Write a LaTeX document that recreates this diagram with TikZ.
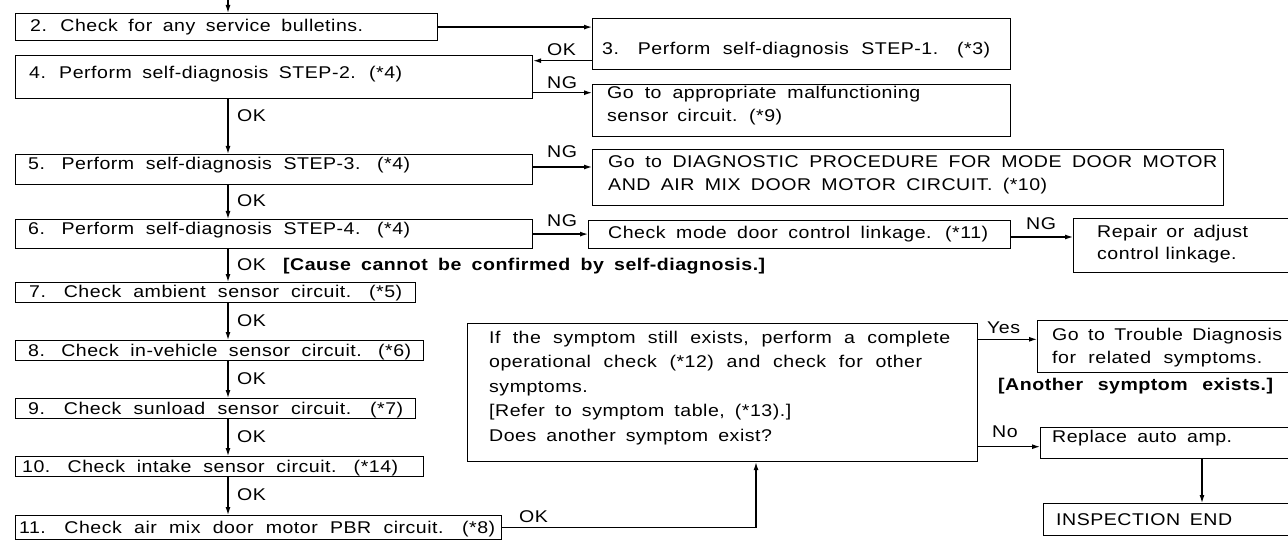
\documentclass[tikz,border=0pt]{standalone}
\usepackage{fontspec}
\setmainfont{Liberation Sans}[FakeStretch=1.15,LetterSpace=3,WordSpace=1.7]
\usetikzlibrary{arrows.meta}
\newcommand{\fitline}[2]{\makebox[#1pt][s]{#2}}
\begin{document}
\begin{tikzpicture}[x=1pt,y=-1pt,
  box/.style={draw,line width=1.2pt,inner sep=0pt,anchor=north west},
  txt/.style={anchor=base west,inner sep=0pt,font=\fontsize{17}{20}\selectfont},
  btxt/.style={anchor=base west,inner sep=0pt,font=\fontsize{17}{20}\selectfont\bfseries},
  arr/.style={line width=1.2pt,-{Latex[length=8pt,width=5pt]}}]
\useasboundingbox (0,0) rectangle (1288,540);
\fill[white] (0,0) rectangle (1288,540);
\clip (0,0) rectangle (1288,540);
% boxes
\node[box,minimum width=422,minimum height=27] (b2) at (15,13) {};
\node[box,minimum width=418,minimum height=51] (b3) at (592,18) {};
\node[box,minimum width=517,minimum height=43] (b4) at (15,55) {};
\node[box,minimum width=418,minimum height=52] (mal) at (592,84) {};
\node[box,minimum width=517,minimum height=30] (b5) at (15,154) {};
\node[box,minimum width=631,minimum height=56] (diag) at (592,149) {};
\node[box,minimum width=517,minimum height=29] (b6) at (15,219) {};
\node[box,minimum width=422,minimum height=28] (mode) at (588,220) {};
\node[box,minimum width=240,minimum height=54] (rep) at (1073,218) {};
\node[box,minimum width=400,minimum height=20] (b7) at (15,282) {};
\node[box,minimum width=408,minimum height=20] (b8) at (15,340) {};
\node[box,minimum width=400,minimum height=20] (b9) at (15,398) {};
\node[box,minimum width=408,minimum height=20] (b10) at (15,456) {};
\node[box,minimum width=486,minimum height=24] (b11) at (15,515) {};
\node[box,minimum width=510,minimum height=138] (dec) at (467,323) {};
\node[box,minimum width=270,minimum height=52] (trb) at (1037,320) {};
\node[box,minimum width=270,minimum height=31] (rpl) at (1040,427) {};
\node[box,minimum width=270,minimum height=32] (insp) at (1043,503) {};
% texts
\node[txt] (t2) at (30,31.5) {\fitline{333}{2. Check for any service bulletins.}};
\node[txt] (t3) at (602,55) {\fitline{388}{3. Perform self-diagnosis STEP-1. (*3)}};
\node[txt] (t4) at (29,79) {\fitline{373}{4. Perform self-diagnosis STEP-2. (*4)}};
\node[txt] (tm1) at (607,99) {\fitline{313}{Go to appropriate malfunctioning}};
\node[txt] (tm2) at (607,122) {\fitline{175}{sensor circuit. (*9)}};
\node[txt] (t5) at (28,170) {\fitline{382}{5. Perform self-diagnosis STEP-3. (*4)}};
\node[txt] (td1) at (608,168) {\fitline{609}{Go to DIAGNOSTIC PROCEDURE FOR MODE DOOR MOTOR}};
\node[txt] (td2) at (608,190.5) {\fitline{439}{AND AIR MIX DOOR MOTOR CIRCUIT. (*10)}};
\node[txt] (t6) at (28,235) {\fitline{382}{6. Perform self-diagnosis STEP-4. (*4)}};
\node[txt] (tmo) at (608,239) {\fitline{380}{Check mode door control linkage. (*11)}};
\node[txt] (tr1) at (1097,237) {\fitline{151}{Repair or adjust}};
\node[txt] (tr2) at (1097,259.5) {\fitline{121}{control linkage.}};
\node[btxt] (tc) at (283,270) {\fitline{482}{[Cause cannot be confirmed by self-diagnosis.]}};
\node[txt] (t7) at (29,298) {\fitline{373}{7. Check ambient sensor circuit. (*5)}};
\node[txt] (t8) at (28,356) {\fitline{383}{8. Check in-vehicle sensor circuit. (*6)}};
\node[txt] (t9) at (28,414) {\fitline{375}{9. Check sunload sensor circuit. (*7)}};
\node[txt] (t10) at (22,472) {\fitline{376}{10. Check intake sensor circuit. (*14)}};
\node[txt] (t11) at (19,533) {\fitline{476}{11. Check air mix door motor PBR circuit. (*8)}};
\node[txt] (q1) at (489,343) {\fitline{461}{If the symptom still exists, perform a complete}};
\node[txt] (q2) at (489,367.5) {\fitline{433}{operational check (*12) and check for other}};
\node[txt] (q3) at (489,392) {symptoms.};
\node[txt] (q4) at (489,416.5) {[Refer to symptom table, (*13).]};
\node[txt] (q5) at (489,441) {Does another symptom exist?};
\node[txt] (g1) at (1052,340) {\fitline{230}{Go to Trouble Diagnosis}};
\node[txt] (g2) at (1052,363) {\fitline{210}{for related symptoms.}};
\node[btxt] (an) at (998,390) {\fitline{275}{[Another symptom exists.]}};
\node[txt] (rt) at (1052,442) {\fitline{180}{Replace auto amp.}};
\node[txt] (it) at (1056,525) {\fitline{176}{INSPECTION END}};
% connector labels
\node[txt] (l1) at (547,56) {OK};
\node[txt] (l2) at (547,89) {NG};
\node[txt] (l3) at (237,122) {OK};
\node[txt] (l4) at (547,158) {NG};
\node[txt] (l5) at (237,207) {OK};
\node[txt] (l6) at (547,227) {NG};
\node[txt] (l7) at (1026,230) {NG};
\node[txt] (l8) at (237,270) {OK};
\node[txt] (l9) at (237,326) {OK};
\node[txt] (l10) at (237,384) {OK};
\node[txt] (l11) at (237,442) {OK};
\node[txt] (l12) at (237,500) {OK};
\node[txt] (l13) at (987,333) {Yes};
\node[txt] (l14) at (992,437) {No};
\node[txt] (l15) at (519,522) {OK};
% connectors
\coordinate (spine) at (228,-2);
\coordinate (upx) at (756,0);
\coordinate (dnx) at (1202,0);
\draw[arr] (spine) -- (spine |- b2.north);
\draw[arr] (b2.east) -- (b2.east -| b3.west);
\draw[arr] (b3.west |- 0,60.7) -- (b4.east |- 0,60.7);
\draw[arr] (b4.east |- 0,92.7) -- (mal.west |- 0,92.7);
\draw[arr] (spine |- b4.south) -- (spine |- b5.north);
\draw[arr] (b5.east |- 0,167) -- (diag.west |- 0,167);
\draw[arr] (spine |- b5.south) -- (spine |- b6.north);
\draw[arr] (b6.east) -- (b6.east -| mode.west);
\draw[arr] (mode.east |- 0,237) -- (rep.west |- 0,237);
\draw[arr] (spine |- b6.south) -- (spine |- b7.north);
\draw[arr] (spine |- b7.south) -- (spine |- b8.north);
\draw[arr] (spine |- b8.south) -- (spine |- b9.north);
\draw[arr] (spine |- b9.south) -- (spine |- b10.north);
\draw[arr] (spine |- b10.south) -- (spine |- b11.north);
\draw[arr] (b11.east) -| (dec.south -| upx);
\draw[arr] (dec.east |- 0,339.3) -- (trb.west |- 0,339.3);
\draw[arr] (dec.east |- 0,446.7) -- (rpl.west |- 0,446.7);
\draw[arr] (rpl.south -| dnx) -- (insp.north -| dnx);
\end{tikzpicture}
\end{document}
